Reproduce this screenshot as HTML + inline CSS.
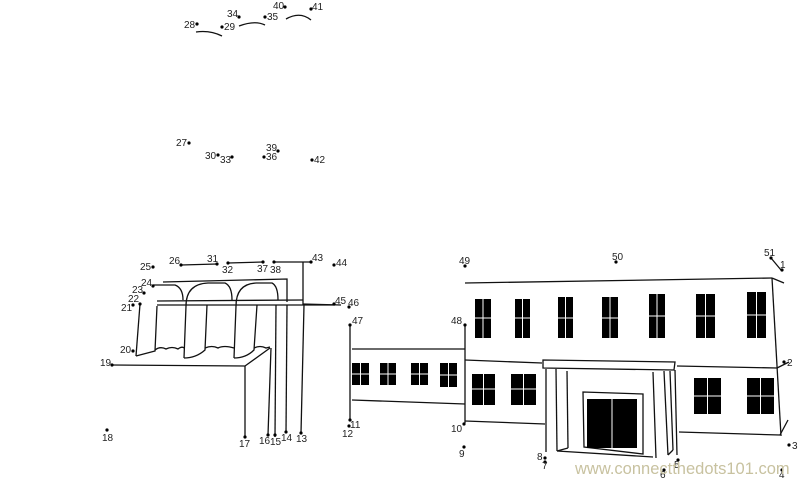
<!DOCTYPE html>
<html><head><meta charset="utf-8"><style>
html,body{margin:0;padding:0;background:#fff}
svg{display:block}
text{font-family:"Liberation Sans",sans-serif;font-size:10px;fill:#222}
</style></head><body>
<svg width="800" height="478" viewBox="0 0 800 478" xmlns="http://www.w3.org/2000/svg">
<g fill="none" stroke="#111" stroke-width="1.3">
<path d="M196,32 Q210,30 222,36"/>
<path d="M239,26 Q255,20 265,25"/>
<path d="M286,19 Q300,11 311,20"/>
<!-- left building -->
<polyline points="112,365 245,366 270,348"/>
<line x1="245" y1="366" x2="245" y2="437"/>
<line x1="271" y1="348" x2="268" y2="435"/>
<line x1="140" y1="304" x2="136" y2="356"/>
<path d="M136,356 L155,351 L157,306"/>
<path d="M153,285 L175,285 Q183,288 183,300"/>
<path d="M163,282 L287,279 L287,302"/>
<path d="M157,301 L303,300"/>
<path d="M157,305 L335,305"/>
<!-- arch 2 -->
<path d="M184,358 L186,306 Q186,284 208,283 L225,283 Q232,286 232,300"/>
<path d="M184,358 Q196,358 205,350 L207,305"/>
<!-- arch 3 -->
<path d="M234,358 L236,306 Q236,284 256,283 L272,283 Q278,286 278,300"/>
<path d="M234,358 Q246,358 254,350 L257,305"/>
<path d="M155,350 Q160,346 166,349 Q172,346 178,349 Q182,346 184,348 M205,348 Q212,345 218,348 Q224,345 234,348 M254,348 Q260,345 266,348 L270,347"/>
<line x1="276" y1="305" x2="275" y2="437"/>
<line x1="287" y1="305" x2="286" y2="433"/>
<line x1="303" y1="262" x2="303" y2="305"/>
<line x1="304" y1="305" x2="301" y2="433"/>
<line x1="181" y1="265" x2="217" y2="264"/>
<line x1="228" y1="263" x2="263" y2="262"/>
<line x1="274" y1="262" x2="311" y2="262"/>
<line x1="303" y1="304" x2="341" y2="305"/>
<!-- connecting wing -->
<line x1="350" y1="325" x2="350" y2="420"/>
<line x1="352" y1="349" x2="465" y2="349"/>
<line x1="352" y1="400" x2="465" y2="404"/>
<!-- right building -->
<line x1="465" y1="283" x2="772" y2="278"/>
<line x1="772" y1="278" x2="781" y2="436"/>
<line x1="772" y1="278" x2="784" y2="283"/>
<line x1="771" y1="258" x2="781" y2="270"/>
<line x1="465" y1="325" x2="465" y2="423"/>
<line x1="465" y1="360" x2="542" y2="363"/>
<line x1="677" y1="366" x2="777" y2="368"/>
<line x1="777" y1="368" x2="789" y2="362"/>
<line x1="465" y1="421" x2="545" y2="424"/>
<line x1="679" y1="432" x2="780" y2="435"/>
<line x1="780" y1="435" x2="788" y2="420"/>
<path d="M543,360 L675,362 L674,370 L543,368 Z"/>
<line x1="546" y1="369" x2="546" y2="452"/>
<line x1="556" y1="369" x2="557" y2="451"/>
<line x1="567" y1="371" x2="568" y2="448"/>
<line x1="557" y1="451" x2="568" y2="448"/>
<line x1="557" y1="451" x2="653" y2="457"/>
<line x1="653" y1="372" x2="656" y2="458"/>
<line x1="664" y1="371" x2="668" y2="455"/>
<line x1="670" y1="371" x2="673" y2="450"/>
<line x1="675" y1="370" x2="677" y2="455"/>
<line x1="668" y1="455" x2="673" y2="450"/>
<path d="M583,392 L643,394 L643,454 L584,447 Z"/>
</g>
<g fill="#000">
<rect x="352" y="363" width="17" height="22"/><rect x="380" y="363" width="16" height="22"/>
<rect x="411" y="363" width="17" height="22"/><rect x="440" y="363" width="17" height="24"/>
<rect x="475" y="299" width="16" height="39"/><rect x="515" y="299" width="15" height="39"/>
<rect x="558" y="297" width="15" height="41"/><rect x="602" y="297" width="16" height="41"/>
<rect x="649" y="294" width="16" height="44"/><rect x="696" y="294" width="19" height="44"/>
<rect x="747" y="292" width="19" height="46"/>
<rect x="472" y="374" width="23" height="31"/><rect x="511" y="374" width="25" height="31"/>
<rect x="694" y="378" width="27" height="36"/><rect x="747" y="378" width="27" height="36"/>
<rect x="587" y="399" width="50" height="49"/>
</g>
<g stroke="#fff" stroke-width="1">
<line x1="360.5" y1="363" x2="360.5" y2="385"/><line x1="352" y1="374" x2="369" y2="374"/>
<line x1="388" y1="363" x2="388" y2="385"/><line x1="380" y1="374" x2="396" y2="374"/>
<line x1="419.5" y1="363" x2="419.5" y2="385"/><line x1="411" y1="374" x2="428" y2="374"/>
<line x1="448.5" y1="363" x2="448.5" y2="387"/><line x1="440" y1="375" x2="457" y2="375"/>
<line x1="483" y1="299" x2="483" y2="338"/><line x1="475" y1="318" x2="491" y2="318"/>
<line x1="522.5" y1="299" x2="522.5" y2="338"/><line x1="515" y1="318" x2="530" y2="318"/>
<line x1="565.5" y1="297" x2="565.5" y2="338"/><line x1="558" y1="318" x2="573" y2="318"/>
<line x1="610" y1="297" x2="610" y2="338"/><line x1="602" y1="318" x2="618" y2="318"/>
<line x1="657" y1="294" x2="657" y2="338"/><line x1="649" y1="316" x2="665" y2="316"/>
<line x1="705.5" y1="294" x2="705.5" y2="338"/><line x1="696" y1="316" x2="715" y2="316"/>
<line x1="756.5" y1="292" x2="756.5" y2="338"/><line x1="747" y1="315" x2="766" y2="315"/>
<line x1="483.5" y1="374" x2="483.5" y2="405"/><line x1="472" y1="389" x2="495" y2="389"/>
<line x1="523.5" y1="374" x2="523.5" y2="405"/><line x1="511" y1="389" x2="536" y2="389"/>
<line x1="707.5" y1="378" x2="707.5" y2="414"/><line x1="694" y1="396" x2="721" y2="396"/>
<line x1="760.5" y1="378" x2="760.5" y2="414"/><line x1="747" y1="396" x2="774" y2="396"/>
<line x1="612" y1="399" x2="612" y2="448"/>
</g>
<g fill="#000">
<circle cx="782" cy="270" r="1.6"/><circle cx="784" cy="362" r="1.6"/><circle cx="789" cy="445" r="1.6"/><circle cx="782" cy="470" r="1.6"/>
<circle cx="678" cy="460" r="1.6"/><circle cx="664" cy="470" r="1.6"/><circle cx="545" cy="462" r="1.6"/><circle cx="545" cy="458" r="1.6"/>
<circle cx="464" cy="447" r="1.6"/><circle cx="464" cy="424" r="1.6"/><circle cx="350" cy="420" r="1.6"/><circle cx="349" cy="426" r="1.6"/>
<circle cx="301" cy="433" r="1.6"/><circle cx="286" cy="432" r="1.6"/><circle cx="275" cy="435" r="1.6"/><circle cx="268" cy="435" r="1.6"/>
<circle cx="245" cy="437" r="1.6"/><circle cx="107" cy="430" r="1.6"/><circle cx="112" cy="365" r="1.6"/><circle cx="133" cy="351" r="1.6"/>
<circle cx="133" cy="305" r="1.6"/><circle cx="140" cy="304" r="1.6"/><circle cx="144" cy="293" r="1.6"/><circle cx="153" cy="286" r="1.6"/>
<circle cx="153" cy="267" r="1.6"/><circle cx="181" cy="265" r="1.6"/><circle cx="189" cy="143" r="1.6"/><circle cx="197" cy="24" r="1.6"/>
<circle cx="222" cy="27" r="1.6"/><circle cx="218" cy="155" r="1.6"/><circle cx="217" cy="264" r="1.6"/><circle cx="228" cy="263" r="1.6"/>
<circle cx="232" cy="157" r="1.6"/><circle cx="239" cy="17" r="1.6"/><circle cx="265" cy="17" r="1.6"/><circle cx="264" cy="157" r="1.6"/>
<circle cx="263" cy="262" r="1.6"/><circle cx="274" cy="262" r="1.6"/><circle cx="278" cy="151" r="1.6"/><circle cx="285" cy="7" r="1.6"/>
<circle cx="311" cy="9" r="1.6"/><circle cx="312" cy="160" r="1.6"/><circle cx="311" cy="262" r="1.6"/><circle cx="334" cy="265" r="1.6"/>
<circle cx="334" cy="304" r="1.6"/><circle cx="349" cy="307" r="1.6"/><circle cx="350" cy="325" r="1.6"/><circle cx="465" cy="325" r="1.6"/>
<circle cx="465" cy="266" r="1.6"/><circle cx="616" cy="262" r="1.6"/><circle cx="771" cy="258" r="1.6"/>
</g>
<g>
<text x="780" y="268">1</text><text x="787" y="366">2</text><text x="792" y="449">3</text><text x="779" y="478">4</text>
<text x="674" y="468">5</text><text x="660" y="478">6</text><text x="542" y="469">7</text><text x="537" y="460">8</text>
<text x="459" y="457">9</text><text x="451" y="432">10</text><text x="350" y="428">11</text><text x="342" y="437">12</text>
<text x="296" y="442">13</text><text x="281" y="441">14</text><text x="270" y="445">15</text><text x="259" y="444">16</text>
<text x="239" y="447">17</text><text x="102" y="441">18</text><text x="100" y="366">19</text><text x="120" y="353">20</text>
<text x="121" y="311">21</text><text x="128" y="302">22</text><text x="132" y="293">23</text><text x="141" y="286">24</text>
<text x="140" y="270">25</text><text x="169" y="264">26</text><text x="176" y="146">27</text><text x="184" y="28">28</text>
<text x="224" y="30">29</text><text x="205" y="159">30</text><text x="207" y="262">31</text><text x="222" y="273">32</text>
<text x="220" y="163">33</text><text x="227" y="17">34</text><text x="267" y="20">35</text><text x="266" y="160">36</text>
<text x="257" y="272">37</text><text x="270" y="273">38</text><text x="266" y="151">39</text><text x="273" y="9">40</text>
<text x="312" y="10">41</text><text x="314" y="163">42</text><text x="312" y="261">43</text><text x="336" y="266">44</text>
<text x="335" y="304">45</text><text x="348" y="306">46</text><text x="352" y="324">47</text><text x="451" y="324">48</text>
<text x="459" y="264">49</text><text x="612" y="260">50</text><text x="764" y="256">51</text>
<text x="575" y="474" style="font-size:16.5px;fill:#c8c2a0">www.connectthedots101.com</text>
</g>
</svg>
</body></html>
